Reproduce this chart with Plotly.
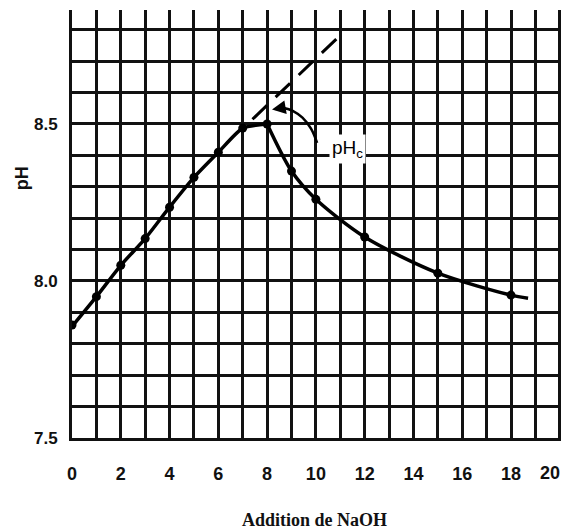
import plotly.graph_objects as go

# Measured points
naoh = [0, 1, 2, 3, 4, 5, 6, 7, 8, 9, 10, 12, 15, 18]
ph = [7.86, 7.95, 8.05, 8.135, 8.235, 8.33, 8.41, 8.487, 8.50, 8.35, 8.26, 8.14, 8.025, 7.955]

# Drawn curve: rising branch and falling branch (the latter extends a bit past the last point)
rise_x = [0, 1, 2, 3, 4, 5, 6, 7, 8]
rise_y = [7.855, 7.95, 8.05, 8.135, 8.235, 8.33, 8.41, 8.487, 8.50]
fall_x = [8, 9, 10, 12, 15, 18, 18.7]
fall_y = [8.50, 8.35, 8.26, 8.14, 8.025, 7.955, 7.945]

# Dashed extrapolation of the linear branch
dash_x = [7.4, 11.1]
dash_y = [8.515, 8.79]

# Curved leader from the pHc label to the arrow
lead_x = [10.05, 9.8, 9.45, 9.05, 8.65]
lead_y = [8.44, 8.485, 8.52, 8.542, 8.552]

x_ticks = list(range(0, 21))
x_labels = [str(v) if v % 2 == 0 else "" for v in x_ticks]
y_ticks = [round(7.5 + 0.1 * i, 1) for i in range(14)]
y_labels = {7.5: "7.5", 8.0: "8.0", 8.5: "8.5"}
y_text = [y_labels.get(v, "") for v in y_ticks]

tick_font = dict(family="Liberation Sans Narrow, Liberation Sans, Arial, sans-serif",
                 size=18, color="#111", weight="bold")

fig = go.Figure()
fig.add_trace(go.Scatter(x=dash_x, y=dash_y, mode="lines",
                         line=dict(color="black", width=3, dash="20px,12px"), hoverinfo="skip"))
fig.add_trace(go.Scatter(x=rise_x, y=rise_y, mode="lines",
                         line=dict(color="black", width=3.5, shape="spline", smoothing=0.6)))
fig.add_trace(go.Scatter(x=fall_x, y=fall_y, mode="lines",
                         line=dict(color="black", width=3.5, shape="spline", smoothing=0.8)))
fig.add_trace(go.Scatter(x=naoh, y=ph, mode="markers",
                         marker=dict(color="black", size=9)))
fig.add_trace(go.Scatter(x=lead_x, y=lead_y, mode="lines",
                         line=dict(color="black", width=2.5, shape="spline", smoothing=1)))

fig.add_annotation(x=8.2, y=8.546, ax=lead_x[-1], ay=lead_y[-1], axref="x", ayref="y",
                   xref="x", yref="y", text="", showarrow=True,
                   arrowhead=2, arrowsize=1.1, arrowwidth=2.5, arrowcolor="black")
fig.add_annotation(x=10.55, y=8.42, xref="x", yref="y", xanchor="left", yanchor="middle",
                   text="pH<sub>c</sub>", showarrow=False, bgcolor="white", borderpad=2,
                   font=dict(family="Liberation Sans, Arial, sans-serif", size=19, color="black"))

# Last x tick label sits against the right edge (drawn right-aligned so it is not cut)
fig.add_annotation(x=x_ticks[-1], y=-0.082, xref="x", yref="paper", showarrow=False,
                   xanchor="right", yanchor="middle", xshift=2,
                   text=x_labels[-1], font=tick_font)

fig.add_annotation(x=0.496, y=-0.192, xref="paper", yref="paper", showarrow=False,
                   xanchor="center", yanchor="middle",
                   text="Addition de NaOH",
                   font=dict(family="Liberation Serif, Times New Roman, serif", size=18,
                             color="#111", weight="bold"))
fig.add_annotation(x=-0.102, y=0.607, xref="paper", yref="paper", showarrow=False,
                   xanchor="center", yanchor="middle",
                   text="pH", textangle=-90,
                   font=dict(family="Liberation Sans, Arial, sans-serif", size=18,
                             color="#111", weight="bold"))

grid = dict(showgrid=True, gridcolor="#111", gridwidth=2.6, zeroline=False,
            showline=True, linecolor="#111", linewidth=3, ticks="", mirror=False,
            automargin=False)

fig.update_xaxes(range=[0, 20.05], tickvals=x_ticks, ticktext=x_labels[:-1] + [""],
                 tickfont=tick_font, ticklabelstandoff=17, **grid)
fig.update_yaxes(range=[7.5, 8.863], tickvals=y_ticks, ticktext=y_text,
                 tickfont=dict(tick_font, size=17), ticklabelstandoff=8, **grid)

fig.update_layout(width=562, height=531, margin=dict(l=72, r=1, t=10, b=93, autoexpand=False),
                  paper_bgcolor="white", plot_bgcolor="white", showlegend=False)

fig.write_html("out.html")
